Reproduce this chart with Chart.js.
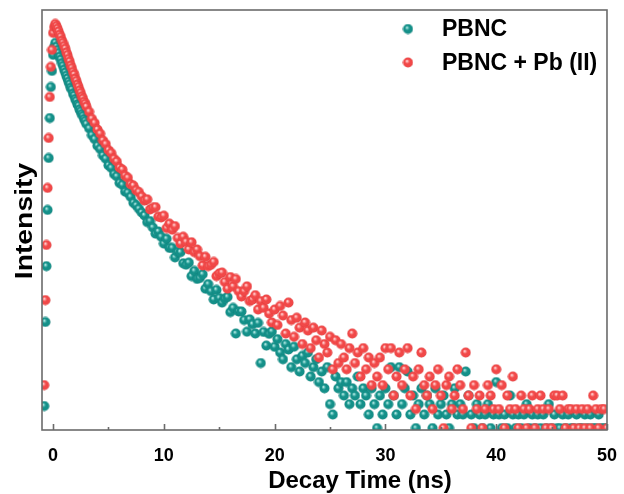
<!DOCTYPE html>
<html>
<head>
<meta charset="utf-8">
<script src="https://cdn.jsdelivr.net/npm/chart.js@4/dist/chart.umd.min.js"></script>
<style>
  html, body { margin: 0; padding: 0; background: #fff; }
  canvas { display: block; }
</style>
</head>
<body>
<canvas id="decay" width="624" height="494"></canvas>
<script>
/* ── data: decay time (ns) and intensity of both samples ── */
const decayTime = [
  -0.8, -0.7, -0.6, -0.5, -0.4, -0.3, -0.2, -0.1, 0, 0.1, 0.2,
  0.3, 0.4, 0.5, 0.6, 0.7, 0.8, 0.9, 1.0, 1.1, 1.2, 1.3, 1.4, 1.5, 1.6, 1.7, 1.8, 1.9, 2.0,
  2.1, 2.2, 2.3, 2.4, 2.5, 2.6, 2.7, 2.8, 2.9, 3.0,
  3.25, 3.5, 3.75, 4, 4.25, 4.5, 4.75, 5,
  5.25, 5.5, 5.75, 6, 6.25, 6.5, 6.75, 7,
  7.25, 7.5, 7.75, 8, 8.25, 8.5, 8.75, 9,
  9.25, 9.5, 9.75, 10, 10.25, 10.5, 10.75, 11,
  11.25, 11.5, 11.75, 12, 12.25, 12.5, 12.75, 13,
  13.25, 13.5, 13.75, 14, 14.25, 14.5, 14.75, 15,
  15.25, 15.5, 15.75, 16, 16.25, 16.5, 16.75, 17,
  17.25, 17.5, 17.75, 18, 18.25, 18.5, 18.75, 19,
  19.25, 19.5, 19.75, 20, 20.25, 20.5, 20.75, 21,
  21.25, 21.5, 21.75, 22, 22.25, 22.5, 22.75, 23,
  23.25, 23.5, 23.75, 24, 24.25, 24.5, 24.75, 25,
  25.25, 25.5, 25.75, 26, 26.25, 26.5, 26.75, 27,
  27.25, 27.5, 27.75, 28, 28.25, 28.5, 28.75, 29,
  29.25, 29.5, 29.75, 30, 30.25, 30.5, 30.75, 31,
  31.25, 31.5, 31.75, 32, 32.25, 32.5, 32.75, 33,
  33.25, 33.5, 33.75, 34, 34.25, 34.5, 34.75, 35,
  35.25, 35.5, 35.75, 36, 36.25, 36.5, 36.75, 37,
  37.25, 37.5, 37.75, 38, 38.25, 38.5, 38.75, 39,
  39.25, 39.5, 39.75, 40, 40.25, 40.5, 40.75, 41,
  41.25, 41.5, 41.75, 42, 42.25, 42.5, 42.75, 43,
  43.25, 43.5, 43.75, 44, 44.25, 44.5, 44.75, 45,
  45.25, 45.5, 45.75, 46, 46.25, 46.5, 46.75, 47,
  47.25, 47.5, 47.75, 48, 48.25, 48.5, 48.75, 49,
  49.25, 49.5, 49.75, 50,
];

const pbnc = [
  3.2, 19.2, 63, 209, 632, 1480, 2870, 4040, 5690, 6750, 7350,
  6760, 6290, 5910, 5470, 5150, 4760, 4490, 4150, 3910, 3650, 3440, 3210, 3040, 2830, 2710, 2490, 2390, 2220,
  2130, 1980, 1920, 1780, 1710, 1610, 1545, 1450, 1390, 1305,
  1190, 1030, 945, 820, 765, 668, 622, 540,
  512, 449, 428, 371, 356, 309, 301, 276,
  243, 231, 214, 198, 186, 161, 165, 144,
  126, 132, 118, 102, 113, 93, 93, 76,
  85, 85, 67, 65, 68, 51, 57, 48,
  49, 53, 39, 43, 37, 31, 38, 32,
  29, 31.5, 32.7, 23.7, 25.9, 15, 24, 24,
  20, 15.6, 20.3, 18.3, 15, 18.8, 8, 15.5,
  11.6, 14.9, 15.7, 11.3, 13.33, 10, 8.67, 12,
  10.67, 7.33, 11.33, 8.67, 6.67, 9.33, 8, 10,
  6, 7.33, 8.67, 5.33, 6.67, 4.67, 7.33, 3.33,
  2.67, 6, 4.67, 5.33, 4, 5.33, 3.33, 4.67,
  4, 6, 3.33, 4.67, 4, 2.67, 4.67, 3.33,
  2, 4, 2.67, 4.67, 3.33, 7.33, 4, 2.67,
  7.33, 3.33, 4.67, 6.67, 2.67, 4, 2, 3.33,
  4.67, 2.67, 4, 3.33, 2, 4.67, 2.67, 3.33,
  4, 2.67, 2, 3.33, 4.67, 2.67, 3.33, 2.67,
  6.67, 4, 2.67, 2, 3.33, 2.67, 2, 2.67,
  3.33, 2, 2.67, 5.33, 2.67, 2, 2.67, 2,
  4, 2.67, 2, 2.67, 2, 2.67, 3.33, 2,
  2.67, 2, 2.67, 2, 2.67, 2, 3.33, 2,
  2.67, 2, 2, 2.67, 2, 2.67, 2, 2,
  2.67, 2, 2, 2.67, 2, 2.67, 2, 2,
  2.67, 2, 2, 2,
];

const pbncPb = [
  5.0, 30.6, 99, 334, 968, 2320, 4400, 6320, 9080, 10300, 11000,
  10500, 9950, 9380, 8760, 8350, 7720, 7360, 6880, 6490, 5990, 5660, 5210, 4930, 4540, 4290, 3950, 3740, 3440,
  3260, 3030, 2870, 2670, 2530, 2350, 2250, 2100, 2010, 1890,
  1695, 1462, 1335, 1160, 1062, 921, 852, 748,
  703, 622, 586, 514, 494, 433, 415, 361,
  351, 318, 306, 279, 255, 262, 211, 218,
  222, 181, 178, 185, 142, 156, 137, 148,
  115, 102, 118, 106, 90, 105, 85, 90,
  78, 64, 77, 63, 65, 69, 51, 54,
  55, 45, 39, 50, 41, 48, 37, 33,
  37, 41, 30, 31, 34, 25, 30, 26,
  31, 23, 19, 25, 18, 27, 22, 15,
  29, 20, 14, 21, 17, 12, 19, 16,
  11, 17, 13, 9, 16, 12, 10, 14,
  7, 13, 8, 12, 9, 7, 11, 15,
  8, 10, 6, 11, 7, 9, 5, 8,
  6, 9, 5, 11, 7, 11, 4, 6,
  10, 5, 7, 11, 4, 6, 3, 7,
  10, 5, 4, 6, 3, 5, 7, 4,
  2, 5, 6, 3, 4, 7, 5, 3,
  10, 4, 2, 5, 3, 4, 2, 3,
  5, 4, 3, 7, 3, 5, 2, 4,
  3, 6, 3, 2, 4, 3, 2, 3,
  4, 2, 3, 4, 3, 2, 3, 2,
  4, 4, 3, 4, 2, 3, 3, 2,
  3, 2, 3, 2, 3, 2, 4, 3,
  2, 3, 3, 2,
];

const xTicks      = [0, 10, 20, 30, 40, 50];
const xMinorTicks = [5, 15, 25, 35, 45];
const seriesLabels = ["PBNC", "PBNC + Pb (II)"];

/* ── look ── */
const FONT = "'Liberation Sans', Arial, Helvetica, sans-serif";
const FRAME = "#6b6b6b";

Chart.defaults.font.family = FONT;
Chart.defaults.color = "#000";

// shaded ball used as point style
function makeBall(light, base, dark) {
  const c = document.createElement("canvas");
  c.width = c.height = 11;
  const g = c.getContext("2d");
  const grad = g.createRadialGradient(4.3, 3.9, 0, 5.5, 5.5, 5.6);
  grad.addColorStop(0, "#ffffff");
  grad.addColorStop(0.16, light);
  grad.addColorStop(0.42, base);
  grad.addColorStop(0.8, base);
  grad.addColorStop(1, dark);
  g.fillStyle = grad;
  g.beginPath();
  g.arc(5.5, 5.5, 5, 0, Math.PI * 2);
  g.fill();
  return c;
}

const tealBall = makeBall("#79d0c9", "#149089", "#0a6a65");
const redBall  = makeBall("#ffa8a8", "#f14848", "#c42a2a");

function toPoints(values) {
  return decayTime.map((t, i) => ({ x: t, y: values[i] }));
}

/* ── frame, inward ticks, titles and legend ── */
const decorPlugin = {
  id: "decor",
  afterDatasetsDraw(chart) {
    const { ctx, chartArea: a, scales: { x } } = chart;
    ctx.save();
    ctx.strokeStyle = FRAME;
    ctx.lineWidth = 1.6;
    ctx.strokeRect(a.left, a.top, a.right - a.left, a.bottom - a.top);

    ctx.beginPath();
    xTicks.forEach(v => {
      const px = Math.round(x.getPixelForValue(v)) + 0.5;
      ctx.moveTo(px, a.bottom);
      ctx.lineTo(px, a.bottom - 6);
    });
    xMinorTicks.forEach(v => {
      const px = Math.round(x.getPixelForValue(v)) + 0.5;
      ctx.moveTo(px, a.bottom);
      ctx.lineTo(px, a.bottom - 3);
    });
    ctx.stroke();
    ctx.restore();
  },
  afterDraw(chart) {
    const { ctx, chartArea: a } = chart;
    ctx.save();
    ctx.fillStyle = "#000";

    // x title
    ctx.font = `bold 24px ${FONT}`;
    ctx.textAlign = "center";
    ctx.textBaseline = "alphabetic";
    ctx.fillText("Decay Time (ns)", 360, 488);

    // y title
    ctx.save();
    ctx.translate(31.5, (a.top + a.bottom) / 2 + 1);
    ctx.rotate(-Math.PI / 2);
    ctx.scale(1.18, 1);
    ctx.fillText("Intensity", 0, 0);
    ctx.restore();

    // legend
    const balls = [tealBall, redBall];
    const rows = [a.top + 19, a.top + 52.5];
    ctx.font = `bold 23px ${FONT}`;
    ctx.textAlign = "left";
    ctx.textBaseline = "middle";
    seriesLabels.forEach((lbl, i) => {
      ctx.drawImage(balls[i], a.right - 204.5, rows[i] - 5.5);
      ctx.fillText(lbl, a.right - 165, rows[i] + 1);
    });
    ctx.restore();
  },
};

new Chart(document.getElementById("decay"), {
  type: "scatter",
  data: {
    datasets: [
      { label: seriesLabels[0], data: toPoints(pbnc),   pointStyle: tealBall, pointRadius: 5, clip: 0, order: 1 },
      { label: seriesLabels[1], data: toPoints(pbncPb), pointStyle: redBall,  pointRadius: 5, clip: 0, order: 0 },
    ],
  },
  options: {
    responsive: false,
    animation: false,
    events: [],
    layout: { padding: { top: 10, right: 11, left: 0, bottom: 0 } },
    plugins: { legend: { display: false }, tooltip: { enabled: false } },
    scales: {
      x: {
        type: "linear",
        min: -1,
        max: 50,
        afterBuildTicks: s => { s.ticks = xTicks.map(v => ({ value: v })); },
        afterFit: s => { s.height = 64; },
        grid: { display: false },
        border: { display: false },
        ticks: { font: { size: 18, weight: "bold" }, color: "#000", padding: 7, maxRotation: 0 },
      },
      y: {
        type: "logarithmic",
        min: 1.92,
        max: 14800,
        afterFit: s => { s.width = 42; },
        grid: { display: false },
        border: { display: false },
        ticks: { display: false },
      },
    },
  },
  plugins: [decorPlugin],
});
</script>
</body>
</html>
